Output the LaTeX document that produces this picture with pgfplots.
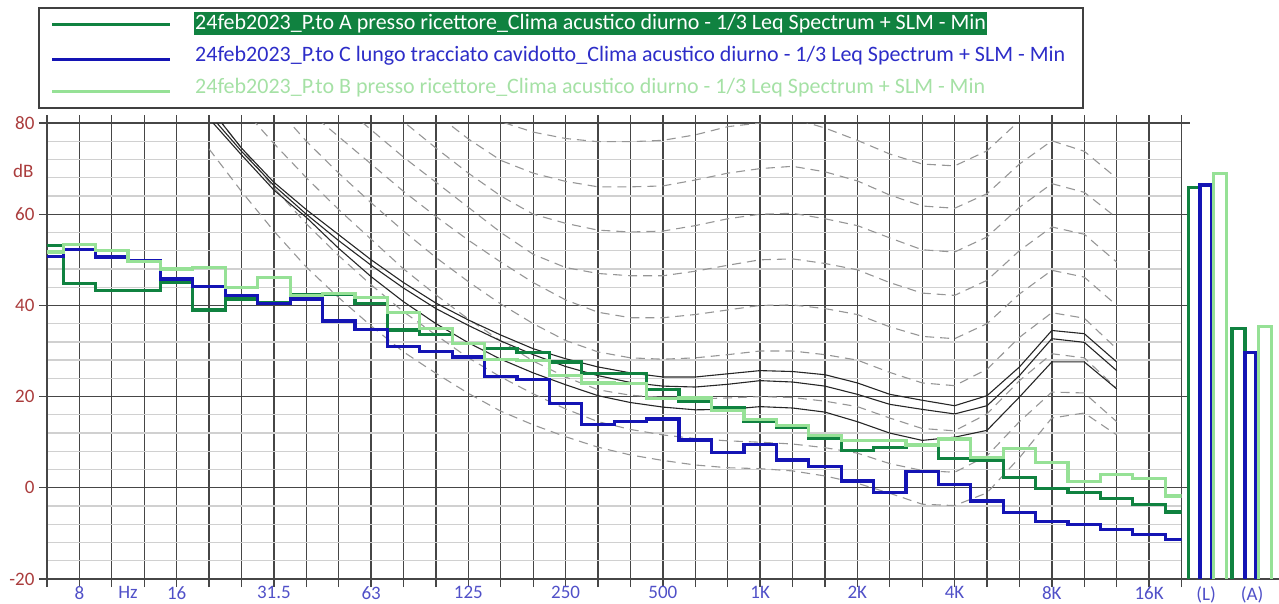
\documentclass[border=0pt]{standalone}
\usepackage{pgfplots}
\pgfplotsset{compat=1.18}
\usepackage{pgfplotstable}
\usepackage{fontspec}
\setmainfont{Carlito}
\definecolor{dkg}{RGB}{16,130,64}
\definecolor{blu}{RGB}{20,20,180}
\definecolor{ltg}{RGB}{150,225,150}
\definecolor{ltgtxt}{RGB}{165,225,165}
\definecolor{blutxt}{RGB}{45,45,200}
\definecolor{ylab}{RGB}{170,60,60}
\definecolor{xlab}{RGB}{80,80,200}
\definecolor{gridd}{RGB}{70,70,70}
\definecolor{gridl}{RGB}{208,208,208}
\definecolor{cont}{RGB}{150,150,150}

\pgfplotstableread{
i A C B
0 53.1 50.7 51.7
1 44.8 52.3 53.3
2 43.3 50.6 52.1
3 43.3 49.9 49.7
4 45.0 45.8 48.0
5 39.0 44.1 48.3
6 41.4 42.1 44.0
7 40.6 40.4 46.2
8 42.4 41.4 42.2
9 42.4 36.6 42.6
10 40.4 34.7 41.7
11 34.6 30.9 38.4
12 33.7 29.9 35.0
13 31.7 28.7 31.7
14 30.6 24.4 28.2
15 29.7 23.8 27.9
16 27.6 18.4 24.6
17 25.0 13.9 23.0
18 25.0 14.5 22.8
19 21.6 15.1 19.6
20 18.9 10.5 19.7
21 17.6 7.7 17.0
22 14.6 9.5 15.0
23 13.3 6.1 13.6
24 10.8 4.7 11.4
25 8.2 1.5 10.4
26 8.8 -1.0 10.3
27 9.5 3.6 9.4
28 6.4 0.8 10.7
29 6.0 -2.9 6.6
30 2.3 -5.5 8.6
31 -0.1 -7.4 5.6
32 -1.0 -8.0 1.4
33 -2.4 -9.1 3.0
34 -3.6 -10.2 2.0
35 -5.3 -11.3 -1.8
}\spec

\begin{document}
\begin{tikzpicture}[x=1pt,y=1pt]
\useasboundingbox (0,0) rectangle (1279,603);
\begin{axis}[
  at={(47pt,24pt)}, anchor=south west,
  width=1134.5pt, height=456pt, scale only axis,
  xmin=0, xmax=35, ymin=-20, ymax=80,
  xtick={0,...,35}, xticklabels={},
  ytick={-20,0,20,40,60,80},
  minor y tick num=4,
  /pgf/number format/assume math mode=true,
  grid=both,
  major grid style={gridd, line width=1.3pt},
  minor grid style={gridl, line width=1.3pt},
  axis line style={gridd, line width=1.3pt},
  tick align=outside,
  major tick length=8pt, minor tick length=0pt,
  tick style={gridd, line width=1.3pt},
  yticklabel style={text=ylab, font=\fontsize{19}{22}\selectfont, xshift=-1pt},
  extra x ticks={1,2.5,4,7,10,13,16,19,22,25,28,31,34},
  extra x tick labels={8,Hz,16,31.5,63,125,250,500,1K,2K,4K,8K,16K},
  extra x tick style={grid=none, major tick length=0pt,
     xticklabel style={text=xlab, font=\fontsize{19}{22}\selectfont, yshift=-4pt}},
  extra y ticks={69.5}, extra y tick labels={dB},
  extra y tick style={grid=none, major tick length=0pt,
     yticklabel style={text=ylab, font=\fontsize{19}{22}\selectfont, xshift=-9pt}},
]
% ---- equal loudness contours (dashed): threshold, 10 ... 80 phon
\pgfplotsset{cstyle/.style={cont, line width=1.1pt, dash pattern=on 9pt off 6pt}}
\addplot[cstyle] coordinates {(5,74.3)(6,65.0)(7,56.3)(8,48.4)(9,41.7)(10,35.5)(11,29.8)(12,25.1)(13,20.7)(14,16.8)(15,13.8)(16,11.2)(17,8.9)(18,7.2)(19,6.0)(20,5.0)(21,4.4)(22,4.2)(23,3.7)(24,2.6)(25,1.0)(26,-1.2)(27,-3.6)(28,-3.9)(29,-1.1)(30,6.6)(31,15.3)(32,16.4)(33,11.6)};
\addplot[cstyle] coordinates {(5,83.5)(6,74.5)(7,65.8)(8,57.9)(9,50.9)(10,44.5)(11,38.6)(12,33.5)(13,28.5)(14,24.3)(15,20.6)(16,17.3)(17,14.5)(18,12.8)(19,11.6)(20,10.8)(21,10.3)(22,10)(23,9.6)(24,8.8)(25,7.6)(26,5.3)(27,3.8)(28,3.4)(29,7)(30,14.5)(31,21)(32,20.8)(33,14.5)};
\addplot[cstyle] coordinates {(6,83.5)(7,75.5)(8,68)(9,61)(10,54.5)(11,48)(12,42.3)(13,37)(14,32.2)(15,27.8)(16,24.3)(17,21.5)(18,20.3)(19,19.8)(20,19.5)(21,19.7)(22,20)(23,19.8)(24,19)(25,17.8)(26,15.3)(27,13)(28,12.5)(29,16.2)(30,23.5)(31,29.4)(32,28.5)(33,21.8)};
\addplot[cstyle] coordinates {(7,84)(8,76)(9,69)(10,62.5)(11,56.3)(12,50.5)(13,45.2)(14,40.3)(15,36)(16,32.3)(17,29.8)(18,28.5)(19,28.2)(20,28.5)(21,29.2)(22,30)(23,30)(24,29.2)(25,28)(26,25.3)(27,23)(28,22.4)(29,26)(30,33)(31,38.4)(32,37.2)(33,30.5)};
\addplot[cstyle] coordinates {(8,83)(9,77)(10,71)(11,65)(12,59.5)(13,54.3)(14,49.5)(15,45)(16,41.2)(17,38.5)(18,37.3)(19,37.3)(20,38)(21,39)(22,40)(23,40.1)(24,39.3)(25,38)(26,35.3)(27,33.2)(28,32.7)(29,36)(30,42.5)(31,47.7)(32,46.2)(33,40)};
\addplot[cstyle] coordinates {(9,84.5)(10,78.5)(11,72.5)(12,67)(13,61.5)(14,56)(15,51.2)(16,48.3)(17,47)(18,46.5)(19,46.5)(20,47.5)(21,48.8)(22,50)(23,50.2)(24,49.2)(25,47.8)(26,45)(27,42.7)(28,42.2)(29,45.5)(30,52)(31,57.2)(32,55.6)(33,49.5)};
\addplot[cstyle] coordinates {(10,85.5)(11,80.3)(12,74.5)(13,69)(14,64)(15,60)(16,58)(17,56.5)(18,56.1)(19,56.3)(20,57.5)(21,59)(22,60)(23,60.2)(24,59)(25,57.5)(26,54.8)(27,52.2)(28,51.7)(29,55)(30,61.5)(31,66.7)(32,64.8)(33,59.2)};
\addplot[cstyle] coordinates {(11,87)(12,82)(13,76.5)(14,71.8)(15,69)(16,67.2)(17,66)(18,66)(19,66.2)(20,67.5)(21,69)(22,70)(23,70.5)(24,69.3)(25,67.3)(26,64.2)(27,61.8)(28,61.3)(29,64.5)(30,71)(31,76.1)(32,73.8)(33,67.9)};
\addplot[cstyle] coordinates {(13,86)(14,80.3)(15,78)(16,76.6)(17,75.9)(18,75.9)(19,76.2)(20,77.4)(21,79.2)(22,80)(23,81)(24,78.9)(25,76.2)(26,73.2)(27,71)(28,70.6)(29,73.9)(30,80.5)(31,85.5)(32,83)(33,81)};
% ---- solid reference curves
\pgfplotsset{sstyle/.style={black!85, solid, line width=1.1pt}}
\addplot[sstyle] coordinates {(5,83.5)(6,74.5)(7,67)(8,61)(9,55.5)(10,50)(11,45)(12,40.5)(13,36.8)(14,33.5)(15,30.5)(16,28.3)(17,26.5)(18,25.2)(19,24.3)(20,24.3)(21,25)(22,25.7)(23,25.5)(24,24.8)(25,23)(26,20.5)(27,19.2)(28,18)(29,20.2)(30,26.5)(31,34.5)(32,33.8)(33,27.6)};
\addplot[sstyle] coordinates {(5,82)(6,73.8)(7,66.3)(8,60)(9,54.2)(10,48.8)(11,43.8)(12,39.3)(13,35.6)(14,32.2)(15,29.2)(16,26.6)(17,24.6)(18,23.1)(19,22.3)(20,22.1)(21,22.7)(22,23.5)(23,23.2)(24,22.3)(25,20.5)(26,18.3)(27,17.2)(28,16.2)(29,18)(30,24.6)(31,32.7)(32,31.9)(33,25.7)};
\addplot[sstyle] coordinates {(5,81)(6,73)(7,65.3)(8,59.3)(9,52.5)(10,46.3)(11,40.8)(12,36)(13,31.8)(14,28.2)(15,25.2)(16,22.6)(17,20.2)(18,18.7)(19,17.7)(20,17.1)(21,17.2)(22,17.8)(23,17.5)(24,16.6)(25,14.5)(26,12)(27,10.4)(28,11.1)(29,12.6)(30,19.9)(31,27.6)(32,27.6)(33,21.7)};
% ---- measured spectra
\addplot[dkg, line width=3.2pt, const plot mark mid] table[x=i,y=A]{\spec};
\addplot[blu, line width=3.2pt, const plot mark mid] table[x=i,y=C]{\spec};
\addplot[ltg, line width=3.2pt, const plot mark mid] table[x=i,y=B]{\spec};
\end{axis}

\begin{axis}[
  at={(1181.5pt,24pt)}, anchor=south west,
  width=97.5pt, height=456pt, scale only axis,
  xmin=1181.5, xmax=1279, ymin=-20, ymax=80,
  axis x line=bottom, axis y line=none,
  x axis line style={-, gridd, line width=1.3pt},
  xtick={1206,1252}, xticklabels={(L),(A)},
  major tick length=0pt,
  xticklabel style={text=xlab, font=\fontsize{19}{22}\selectfont, yshift=-4pt},
  clip=false,
]
\addplot[dkg, line width=3.2pt] coordinates {(1188.5,-20)(1188.5,65.8)(1200,65.8)(1200,-20)};
\addplot[blu, line width=3.2pt] coordinates {(1200,-20)(1200,66.4)(1212,66.4)(1212,-20)};
\addplot[ltg, line width=3.2pt] coordinates {(1213.5,-20)(1213.5,69.0)(1226.5,69.0)(1226.5,-20)};
\addplot[dkg, line width=3.2pt] coordinates {(1232,-20)(1232,35.0)(1245,35.0)(1245,-20)};
\addplot[blu, line width=3.2pt] coordinates {(1245,-20)(1245,29.6)(1256,29.6)(1256,-20)};
\addplot[ltg, line width=3.2pt] coordinates {(1258.5,-20)(1258.5,35.3)(1271.5,35.3)(1271.5,-20)};
\end{axis}

% ---- legend
\draw[black!75, line width=1.2pt] (39,495) rectangle (1083,595);
\draw[dkg, line width=3pt] (52,578) -- (170,578);
\draw[blu, line width=3pt] (52,543) -- (170,543);
\draw[ltg, line width=3pt] (52,511) -- (170,511);
\node[anchor=west, fill=dkg, text=white, inner xsep=1pt, inner ysep=2.5pt, font=\fontsize{22}{25}\selectfont] at (194,579.5) {24feb2023\_P.to A presso ricettore\_Clima acustico diurno - 1/3 Leq Spectrum + SLM - Min};
\node[anchor=west, text=blutxt, inner xsep=1pt, font=\fontsize{22}{25}\selectfont] at (194,547) {24feb2023\_P.to C lungo tracciato cavidotto\_Clima acustico diurno - 1/3 Leq Spectrum + SLM - Min};
\node[anchor=west, text=ltgtxt, inner xsep=1pt, font=\fontsize{22}{25}\selectfont] at (194,515) {24feb2023\_P.to B presso ricettore\_Clima acustico diurno - 1/3 Leq Spectrum + SLM - Min};
\end{tikzpicture}
\end{document}
